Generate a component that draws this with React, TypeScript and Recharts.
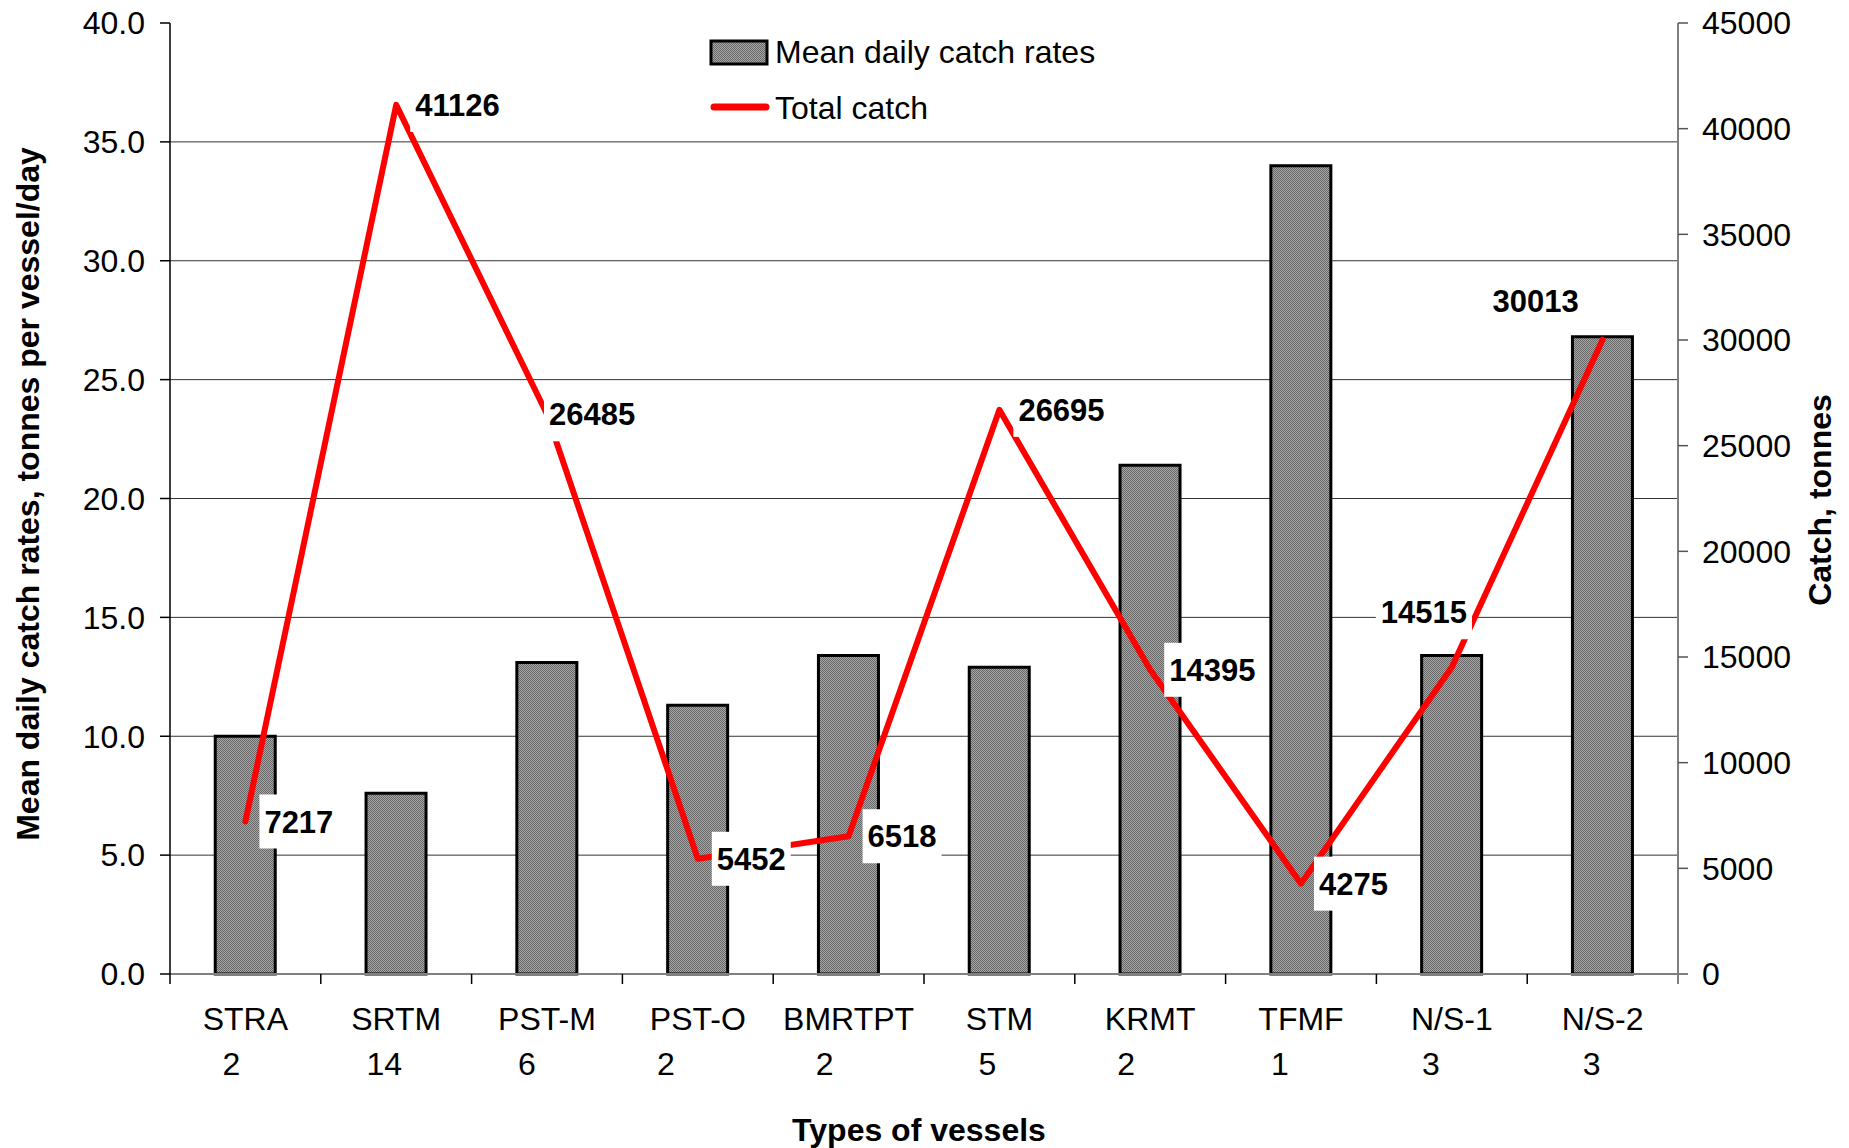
import { ComposedChart, Bar, Line, XAxis, YAxis, CartesianGrid, Legend, LabelList } from "recharts";

const FONT = '"Liberation Sans", Arial, sans-serif';

const VESSELS = ["STRA", "SRTM", "PST-M", "PST-O", "BMRTPT", "STM", "KRMT", "TFMF", "N/S-1", "N/S-2"];
const VESSEL_COUNTS = ["2", "14", "6", "2", "2", "5", "2", "1", "3", "3"];
const CATCH_RATES = [10.0, 7.6, 13.1, 11.3, 13.4, 12.9, 21.4, 34.0, 13.4, 26.8];
const TOTAL_CATCH = [7217, 41126, 26485, 5452, 6518, 26695, 14395, 4275, 14515, 30013];
const RATE_TICKS = [0, 5, 10, 15, 20, 25, 30, 35, 40];
const CATCH_TICKS = [0, 5000, 10000, 15000, 20000, 25000, 30000, 35000, 40000, 45000];

// how far each total-catch label sits from its point (px), as placed in the original
const LABEL_NUDGE: [number, number][] = [
  [19, 0], [19, 0], [2, 0], [19, 0], [19, 0],
  [19, 0], [19, 0], [18, 0], [-71, -55], [-110, -39],
];
// the vessel-count line under each name is not centred in the original
const COUNT_SHIFT = [-14, -12, -20, -32, -24, -12, -24, -21, -21, -11];

const rows = VESSELS.map((vessel, i) => ({
  vessel,
  count: VESSEL_COUNTS[i],
  rate: CATCH_RATES[i],
  total: TOTAL_CATCH[i],
}));

const VesselTick = (props: any) => {
  const { x, y, payload, index } = props;
  const half = payload?.offset ?? 75.4;
  const last = index === VESSELS.length - 1;
  return (
    <g>
      <line x1={x - half} x2={x - half} y1={y} y2={y + 10} stroke="#000" strokeWidth={1.5} />
      {last && <line x1={x + half} x2={x + half} y1={y} y2={y + 10} stroke="#808080" strokeWidth={2} />}
      <text x={x} y={y + 55.5} textAnchor="middle" fontFamily={FONT} fontSize={32} fill="#000">
        {payload.value}
      </text>
      <text x={x + (COUNT_SHIFT[index] ?? 0)} y={y + 100.5} textAnchor="middle" fontFamily={FONT} fontSize={32} fill="#000">
        {VESSEL_COUNTS[index]}
      </text>
    </g>
  );
};

const CatchLabel = (props: any) => {
  const { x, y, value, index } = props;
  const [dx, dy] = LABEL_NUDGE[index] ?? [19, 0];
  const text = String(value);
  const w = text.length * 0.556 * 31;
  const tx = Number(x) + dx;
  const ty = Number(y) + dy;
  return (
    <g>
      <rect x={tx - 5} y={ty - 27} width={w + 10} height={54} fill="#fff" />
      <text x={tx} y={ty} dy="0.358em" fontFamily={FONT} fontSize={31} fontWeight="bold" fill="#000">
        {text}
      </text>
    </g>
  );
};

const LegendBox = () => (
  <svg width={520} height={110} style={{ display: "block", overflow: "visible" }}>
    <rect x={11} y={21} width={56} height={23} fill="url(#barDots)" stroke="#000" strokeWidth={3} />
    <text x={75} y={32} dy="0.358em" fontFamily={FONT} fontSize={32} fill="#000">
      Mean daily catch rates
    </text>
    <line x1={14} x2={66} y1={87} y2={87} stroke="#ff0000" strokeWidth={7} strokeLinecap="round" />
    <text x={75} y={88} dy="0.358em" fontFamily={FONT} fontSize={32} fill="#000">
      Total catch
    </text>
  </svg>
);

const titleStyle = { fontFamily: FONT, fontSize: 32, fontWeight: "bold" as const, fill: "#000" };

export default function App() {
  return (
    <div style={{ position: "absolute", left: 0, top: 0, width: 1849, height: 1148, background: "#fff" }}>
      <svg width={0} height={0} style={{ position: "absolute" }}>
        <defs>
          <pattern id="barDots" width="2" height="2" patternUnits="userSpaceOnUse">
            <rect width="2" height="2" fill="#a8a8a8" />
            <rect width="1" height="1" fill="#666" />
            <rect x="1" y="1" width="1" height="1" fill="#666" />
          </pattern>
        </defs>
      </svg>
      <ComposedChart
        width={1849}
        height={1148}
        data={rows}
        margin={{ top: 23, right: 0, bottom: 0, left: 0 }}
        barCategoryGap="30%"
      >
        <CartesianGrid
          yAxisId="rate"
          vertical={false}
          horizontalValues={RATE_TICKS.slice(1, -1)}
          stroke="#333"
          strokeWidth={1}
        />
        <XAxis
          dataKey="vessel"
          height={174}
          interval={0}
          tickLine={false}
          tickSize={0}
          tickMargin={0}
          axisLine={{ stroke: "#808080", strokeWidth: 2 }}
          tick={(p: any) => <VesselTick {...p} />}
          label={() => (
            <text x={919} y={1130} dy="0.358em" textAnchor="middle" {...titleStyle}>
              Types of vessels
            </text>
          )}
        />
        <YAxis
          yAxisId="rate"
          width={170}
          domain={[0, 40]}
          ticks={RATE_TICKS}
          interval={0}
          tickFormatter={(v: number) => v.toFixed(1)}
          tickSize={10}
          tickMargin={15}
          axisLine={{ stroke: "#000", strokeWidth: 1.5 }}
          tickLine={{ stroke: "#000", strokeWidth: 1.5 }}
          tick={{ fill: "#000", fontSize: 32, fontFamily: FONT }}
          label={() => (
            <text x={28} y={494} dy="0.358em" textAnchor="middle" transform="rotate(-90, 28, 494)" {...titleStyle}>
              Mean daily catch rates, tonnes per vessel/day
            </text>
          )}
        />
        <YAxis
          yAxisId="catch"
          orientation="right"
          width={171}
          domain={[0, 45000]}
          ticks={CATCH_TICKS}
          interval={0}
          tickSize={10}
          tickMargin={14}
          axisLine={{ stroke: "#808080", strokeWidth: 2 }}
          tickLine={{ stroke: "#555", strokeWidth: 1.5 }}
          tick={{ fill: "#000", fontSize: 32, fontFamily: FONT }}
          label={() => (
            <text x={1820} y={500} dy="0.358em" textAnchor="middle" transform="rotate(-90, 1820, 500)" {...titleStyle}>
              Catch, tonnes
            </text>
          )}
        />
        <Legend
          verticalAlign="middle"
          align="center"
          layout="horizontal"
          content={() => <LegendBox />}
          wrapperStyle={{ top: 20, left: 700, width: 520, height: 110 }}
        />
        <Bar
          yAxisId="rate"
          dataKey="rate"
          name="Mean daily catch rates"
          fill="url(#barDots)"
          stroke="#000"
          strokeWidth={3}
          isAnimationActive={false}
        />
        <Line
          yAxisId="catch"
          dataKey="total"
          name="Total catch"
          stroke="#ff0000"
          strokeWidth={6}
          strokeLinejoin="round"
          strokeLinecap="round"
          dot={false}
          activeDot={false}
          isAnimationActive={false}
        >
          <LabelList dataKey="total" content={(p: any) => <CatchLabel {...p} />} />
        </Line>
      </ComposedChart>
    </div>
  );
}
